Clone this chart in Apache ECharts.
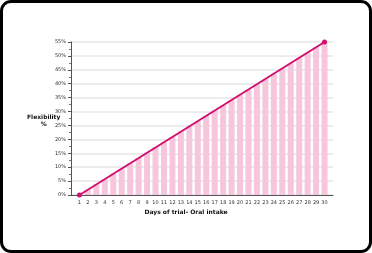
<!DOCTYPE html>
<html>
<head>
<meta charset="utf-8">
<script src="https://cdn.jsdelivr.net/npm/echarts@6/dist/echarts.min.js"></script>
<style>
html,body{margin:0;padding:0;background:#fff;}
#c{width:372px;height:253px;box-sizing:border-box;border:3px solid #000;border-radius:11px;background:#fff;}
</style>
</head>
<body>
<div id="c"></div>
<script>
var days = [1,2,3,4,5,6,7,8,9,10,11,12,13,14,15,16,17,18,19,20,21,22,23,24,25,26,27,28,29,30];
var barValues = [0,1.9,3.8,5.7,7.6,9.5,11.4,13.3,15.2,17.1,19.0,20.9,22.8,24.7,26.5,28.4,30.3,32.2,34.1,36.0,37.9,39.8,41.7,43.6,45.5,47.4,49.3,51.2,53.1,55.0];
var lineStart = [1, 0];
var lineEnd = [30, 55];
var yTicks = [0,5,10,15,20,25,30,35,40,45,50,55];
var yTitle = 'Flexibility\n%';
var xTitle = 'Days of trial- Oral intake';

var chart = echarts.init(document.getElementById('c'));
var barData = days.map(function(d,i){ return [d, barValues[i]]; });
chart.setOption({
  animation:false,
  grid:{left:68, right:36, top:39, bottom:55},
  xAxis:{
    type:'value', min:0, max:31, interval:1,
    axisLine:{show:true, lineStyle:{color:'#555', width:1}},
    axisTick:{show:false},
    splitLine:{show:false},
    axisLabel:{fontSize:5, color:'#333', margin:5, fontFamily:'DejaVu Sans',
      formatter:function(v){ return (v>=1 && v<=30) ? String(v) : ''; }}
  },
  yAxis:{
    type:'value', min:0, max:55, interval:5,
    axisLine:{show:true, lineStyle:{color:'#555', width:1}},
    axisTick:{show:true, length:3, lineStyle:{color:'#555'}},
    minorTick:{show:true, splitNumber:2, length:2, lineStyle:{color:'#777'}},
    splitLine:{show:true, lineStyle:{color:'#e6e6e6', width:1.5}},
    axisLabel:{fontSize:5, color:'#333', margin:5, fontFamily:'DejaVu Sans',
      formatter:function(v){ return yTicks.indexOf(v)>=0 ? v+'%' : ''; }}
  },
  graphic:[
    {type:'text', left:24, top:111, style:{text:yTitle, font:'bold 6px "DejaVu Sans"', fill:'#111', align:'center', textAlign:'center', lineHeight:7}},
    {type:'text', left:'center', top:206, style:{text:xTitle, font:'bold 6px "DejaVu Sans"', fill:'#111'}}
  ],
  series:[
    {type:'bar', data:barData, barWidth:6, itemStyle:{color:'#f6c6dc'}, silent:true},
    {type:'line', data:[lineStart, lineEnd], symbol:'circle', symbolSize:5,
      lineStyle:{color:'#d30f6f', width:2}, itemStyle:{color:'#d30f6f'}, z:5}
  ]
});
</script>
</body>
</html>
